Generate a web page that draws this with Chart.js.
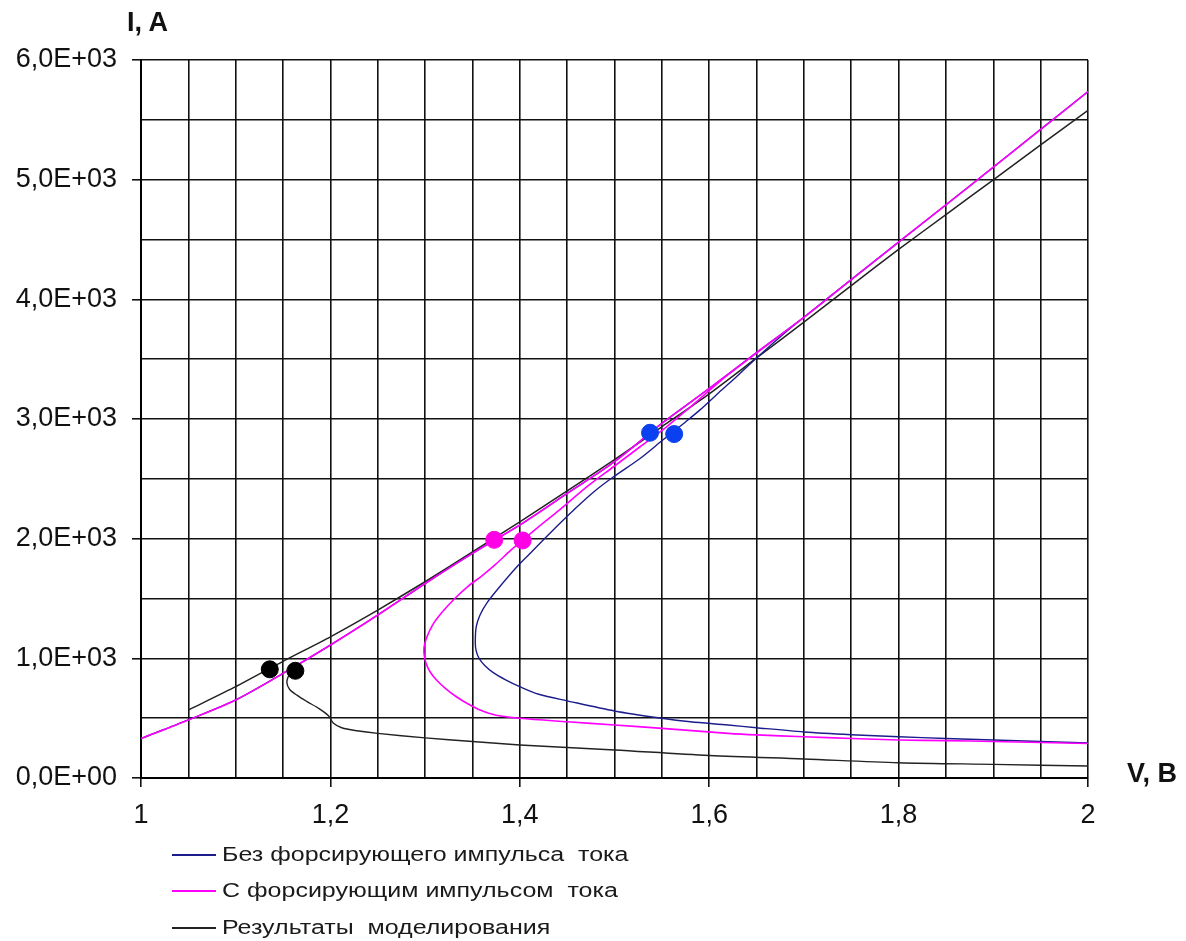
<!DOCTYPE html>
<html>
<head>
<meta charset="utf-8">
<script src="https://cdn.jsdelivr.net/npm/chart.js@4.4.0/dist/chart.umd.min.js"></script>
<style>
    body { margin: 0; background: #fff; font-family: "Liberation Sans", Arial, sans-serif; }
    #wrap { position: relative; width: 1186px; height: 941px; }
    .axis-title { position: absolute; font-weight: bold; font-size: 27px; color: #111; line-height: 1; }
    .leg { position: absolute; left: 172px; height: 20px; width: 600px; }
    .leg .line { position: absolute; left: 0; top: 9px; width: 44px; height: 2px; }
    .leg .txt { position: absolute; left: 50px; top: -2px; font-size: 20px; line-height: 22px; white-space: pre; color: #1a1a1a; transform: scaleX(1.25); transform-origin: left center; }
</style>
</head>
<body>
<div id="wrap">
    <canvas id="ivChart"></canvas>
    <div class="axis-title" style="left:127px; top:9px;">I, A</div>
    <div class="axis-title" style="left:1127px; top:760px;">V, B</div>
    <div class="leg" style="top:845px;"><div class="line" style="background:#1c1c8c"></div><div class="txt">Без форсирующего импульса  тока</div></div>
    <div class="leg" style="top:881px;"><div class="line" style="background:#ff00ff"></div><div class="txt">С форсирующим импульсом  тока</div></div>
    <div class="leg" style="top:918px;"><div class="line" style="background:#222"></div><div class="txt">Результаты  моделирования</div></div>
</div>
<script>
// axis ticks
const xTickValues = [1, 1.2, 1.4, 1.6, 1.8, 2];
const xTickLabels = ['1', '1,2', '1,4', '1,6', '1,8', '2'];
const yTickValues = [0, 1000, 2000, 3000, 4000, 5000, 6000];
const yTickLabels = ['0,0E+00', '1,0E+03', '2,0E+03', '3,0E+03', '4,0E+03', '5,0E+03', '6,0E+03'];

// without forcing pulse (lower branch -> nose -> on-state)
const blueV = [2.00, 1.95, 1.90, 1.85, 1.80, 1.75, 1.70, 1.65, 1.62, 1.58, 1.55, 1.50, 1.45, 1.42, 1.40, 1.385, 1.372, 1.363, 1.357, 1.354, 1.353, 1.354, 1.358, 1.365, 1.379, 1.397, 1.41, 1.425, 1.44, 1.457, 1.478, 1.499, 1.527, 1.551, 1.573, 1.59, 1.61, 1.625, 1.65, 1.68, 1.70, 1.75, 1.80, 1.85, 1.90, 1.95, 2.00];
const blueI = [292, 305, 318, 330, 345, 362, 385, 420, 443, 470, 499, 560, 645, 700, 763, 820, 880, 940, 1000, 1060, 1130, 1264, 1362, 1460, 1600, 1765, 1870, 1990, 2110, 2240, 2390, 2517, 2670, 2824, 2963, 3074, 3220, 3325, 3510, 3720, 3850, 4165, 4478, 4790, 5104, 5420, 5736];

// with forcing pulse
const magV = [2.00, 1.95, 1.90, 1.85, 1.80, 1.75, 1.70, 1.65, 1.62, 1.55, 1.50, 1.45, 1.40, 1.375, 1.358, 1.345, 1.333, 1.322, 1.312, 1.305, 1.301, 1.299, 1.299, 1.302, 1.308, 1.317, 1.330, 1.345, 1.36, 1.375, 1.39, 1.405, 1.42, 1.442, 1.471, 1.499, 1.527, 1.555, 1.58, 1.62, 1.70, 1.75, 1.80, 1.85, 1.90, 1.95, 2.00];
const magI = [288, 297, 305, 312, 318, 330, 345, 360, 373, 415, 443, 470, 499, 525, 568, 620, 679, 745, 819, 890, 958, 1030, 1097, 1180, 1280, 1376, 1490, 1600, 1690, 1790, 1900, 2000, 2100, 2240, 2434, 2601, 2768, 2935, 3100, 3370, 3850, 4165, 4478, 4790, 5104, 5420, 5736];

// falling current, common on-state branch
const returnV = [1.95, 1.90, 1.85, 1.80, 1.75, 1.70, 1.65, 1.60, 1.55, 1.50, 1.45, 1.40, 1.35, 1.30, 1.25, 1.20, 1.15, 1.10, 1.05, 1.00];
const returnI = [5420, 5104, 4790, 4478, 4165, 3850, 3555, 3255, 2963, 2643, 2378, 2114, 1877, 1625, 1362, 1111, 874, 652, 485, 330];

// modelling results
const modelV = [1.05, 1.10, 1.15, 1.20, 1.25, 1.30, 1.35, 1.40, 1.45, 1.50, 1.55, 1.60, 1.65, 1.70, 1.75, 1.80, 1.85, 1.90, 1.95, 2.00];
const modelI = [568, 763, 975, 1180, 1403, 1640, 1890, 2140, 2400, 2660, 2935, 3210, 3510, 3810, 4115, 4417, 4708, 4999, 5290, 5580];
const modelLowV = [2.00, 1.90, 1.80, 1.70, 1.60, 1.50, 1.45, 1.40, 1.35, 1.30, 1.25, 1.228, 1.212, 1.203, 1.198, 1.188, 1.175, 1.165, 1.157, 1.154, 1.156];
const modelLowI = [100, 114, 128, 159, 188, 234, 255, 276, 305, 335, 373, 395, 420, 460, 520, 580, 640, 690, 740, 800, 860];

// switching points
const dotBlueV = [1.5375, 1.563];
const dotBlueI = [2885, 2874];
const dotMagV = [1.373, 1.403];
const dotMagI = [1990, 1985];
const dotModelV = [1.136, 1.163];
const dotModelI = [908, 896];

function pts(v, i) {
    return v.map((x, k) => ({ x: x, y: i[k] }));
}

function findLabel(values, labels, v) {
    for (let k = 0; k < values.length; k++) {
        if (Math.abs(values[k] - v) < 1e-6) return labels[k];
    }
    return '';
}

const tickFont = { family: 'Liberation Sans', size: 27 };

const ctx = document.getElementById('ivChart').getContext('2d');
new Chart(ctx, {
    type: 'scatter',
    data: {
        datasets: [
            { data: pts(dotModelV, dotModelI), backgroundColor: '#000', borderColor: '#000', pointRadius: 8.5, showLine: false, order: 0 },
            { data: pts(dotMagV, dotMagI), backgroundColor: '#ff00e6', borderColor: '#ff00e6', pointRadius: 8.5, showLine: false, order: 0 },
            { data: pts(dotBlueV, dotBlueI), backgroundColor: '#0a40f0', borderColor: '#0a40f0', pointRadius: 8.5, showLine: false, order: 0 },
            { data: pts(magV.concat(returnV), magI.concat(returnI)), borderColor: '#ff00ff', borderWidth: 1.6, showLine: true, pointRadius: 0, tension: 0.3, order: 1 },
            { data: pts(blueV.concat(returnV), blueI.concat(returnI)), borderColor: '#1c1c8c', borderWidth: 1.4, showLine: true, pointRadius: 0, tension: 0.3, order: 2 },
            { data: pts(modelV, modelI), borderColor: '#222', borderWidth: 1.5, showLine: true, pointRadius: 0, tension: 0.2, order: 3 },
            { data: pts(modelLowV, modelLowI), borderColor: '#222', borderWidth: 1.4, showLine: true, pointRadius: 0, tension: 0.3, order: 3 }
        ]
    },
    options: {
        responsive: true,
        maintainAspectRatio: false,
        animation: false,
        layout: { padding: { top: 60, right: 98, bottom: 103, left: 0 } },
        plugins: {
            legend: { display: false },
            tooltip: { enabled: false }
        },
        scales: {
            x: {
                type: 'linear',
                min: 1,
                max: 2,
                afterFit: (scale) => { scale.height = 60; },
                border: { color: '#000', width: 2 },
                grid: {
                    color: '#111',
                    lineWidth: 1.6,
                    tickLength: 9,
                    tickColor: (c) => findLabel(xTickValues, xTickLabels, c.tick ? c.tick.value : -1) !== '' ? '#111' : 'rgba(0,0,0,0)'
                },
                ticks: {
                    stepSize: 0.05,
                    autoSkip: false,
                    maxRotation: 0,
                    padding: 12,
                    color: '#111',
                    font: tickFont,
                    callback: (v) => findLabel(xTickValues, xTickLabels, v)
                }
            },
            y: {
                min: 0,
                max: 6000,
                afterFit: (scale) => { scale.width = 141; },
                border: { color: '#000', width: 2 },
                grid: {
                    color: '#111',
                    lineWidth: 1.6,
                    tickLength: 9,
                    tickColor: (c) => findLabel(yTickValues, yTickLabels, c.tick ? c.tick.value : -1) !== '' ? '#111' : 'rgba(0,0,0,0)'
                },
                ticks: {
                    stepSize: 500,
                    autoSkip: false,
                    padding: 15,
                    color: '#111',
                    font: tickFont,
                    callback: (v) => findLabel(yTickValues, yTickLabels, v)
                }
            }
        }
    }
});
</script>
</body>
</html>
